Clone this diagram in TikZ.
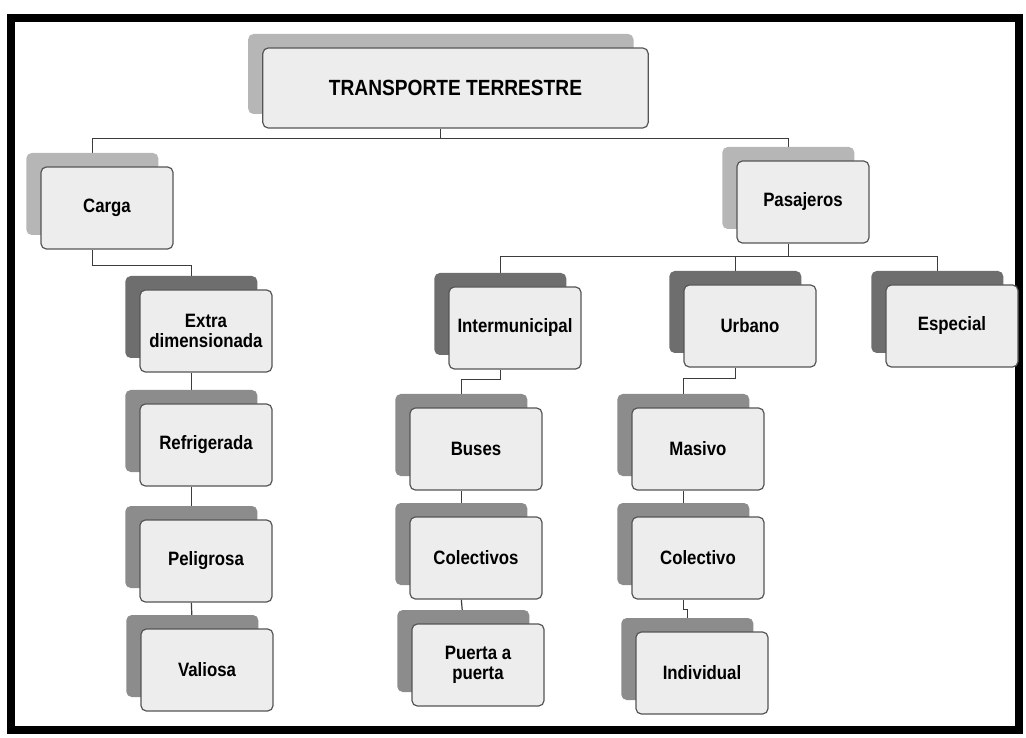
\documentclass[tikz,border=0pt]{standalone}
\usepackage{fontspec}
\setmainfont{Liberation Sans}[FakeStretch=0.87]
\usepackage{tikz}
\usetikzlibrary{shadows,backgrounds}
\definecolor{sombraclara}{RGB}{182,182,182}
\definecolor{sombramedia}{RGB}{140,140,140}
\definecolor{sombraoscura}{RGB}{110,110,110}
\definecolor{fondocaja}{RGB}{237,237,237}
\definecolor{bordecaja}{RGB}{85,85,85}
\definecolor{lineacolor}{RGB}{60,60,60}

\begin{document}
\begin{tikzpicture}[x=0.75pt,y=-0.75pt,
    caja/.style={draw=bordecaja, line width=0.9pt, fill=fondocaja, rounded corners=4pt,
        minimum width=99pt, minimum height=61.5pt, align=center,
        font=\fontsize{14.5}{15}\selectfont\bfseries},
    clara/.style={caja, general shadow={fill=sombraclara, shadow xshift=-11pt, shadow yshift=10.5pt}},
    media/.style={caja, general shadow={fill=sombramedia, shadow xshift=-11pt, shadow yshift=10.5pt}},
    oscura/.style={caja, general shadow={fill=sombraoscura, shadow xshift=-11pt, shadow yshift=10.5pt}},
    conector/.style={draw=lineacolor, line width=0.9pt}]
    \useasboundingbox (0,0) rectangle (1026,738);

    % Marco
    \draw[line width=6pt] (11,18) rectangle (1019,730);

    % Titulo
    \node[clara, minimum width=289pt, minimum height=60pt,
        font=\fontsize{16.5}{18}\selectfont\bfseries] (titulo) at (455.5,88) {TRANSPORTE TERRESTRE};

    % Carga
    \node[clara] (carga) at (107,208) {Carga};
    \node[oscura] (extra) at (206,331) {Extra\\dimensionada};
    \node[media] (refrigerada) at (206,445) {Refrigerada};
    \node[media] (peligrosa) at (206,561) {Peligrosa};
    \node[media] (valiosa) at (207,670) {Valiosa};

    % Pasajeros
    \node[clara] (pasajeros) at (803,202) {Pasajeros};
    \node[oscura] (intermunicipal) at (515,328) {Intermunicipal};
    \node[oscura] (urbano) at (750,326) {Urbano};
    \node[oscura] (especial) at (952,326) {Especial};

    \node[media] (buses) at (476,449) {Buses};
    \node[media] (colectivos) at (476,558) {Colectivos};
    \node[media] (puerta) at (478,665) {Puerta a\\puerta};

    \node[media] (masivo) at (698,449) {Masivo};
    \node[media] (colectivo) at (698,558) {Colectivo};
    \node[media] (individual) at (702,673) {Individual};

    % Conectores
    \begin{scope}[on background layer]
        \draw[conector] ([xshift=-11pt]titulo.south) -- ++(0,10) coordinate (busA);
        \draw[conector] ([xshift=-11pt]carga.north) |- (busA) -| ([xshift=-11pt]pasajeros.north);
        \draw[conector] ([xshift=-11pt]carga.south) -- ++(0,16) -| ([xshift=-11pt]extra.north);
        \draw[conector] ([xshift=-11pt]extra.south) -- ([xshift=-11pt]refrigerada.north);
        \draw[conector] ([xshift=-11pt]refrigerada.south) -- ([xshift=-11pt]peligrosa.north);
        \draw[conector] ([xshift=-11pt]peligrosa.south) -- ([xshift=-11pt]valiosa.north);

        \draw[conector] ([xshift=-11pt]pasajeros.south) -- ++(0,13) coordinate (busB);
        \draw[conector] ([xshift=-11pt]intermunicipal.north) |- (busB) -| ([xshift=-11pt]especial.north);
        \draw[conector] ([xshift=-11pt]urbano.north) -- ([xshift=-11pt]urbano.north |- busB);

        \draw[conector] ([xshift=-11pt]intermunicipal.south) -- ++(0,10) -| ([xshift=-11pt]buses.north);
        \draw[conector] ([xshift=-11pt]buses.south) -- ([xshift=-11pt]colectivos.north);
        \draw[conector] ([xshift=-11pt]colectivos.south) -- ([xshift=-11pt]puerta.north);

        \draw[conector] ([xshift=-11pt]urbano.south) -- ++(0,11) -| ([xshift=-11pt]masivo.north);
        \draw[conector] ([xshift=-11pt]masivo.south) -- ([xshift=-11pt]colectivo.north);
        \draw[conector] ([xshift=-11pt]colectivo.south) -- ++(0,10) -| ([xshift=-11pt]individual.north);
    \end{scope}

\end{tikzpicture}
\end{document}
